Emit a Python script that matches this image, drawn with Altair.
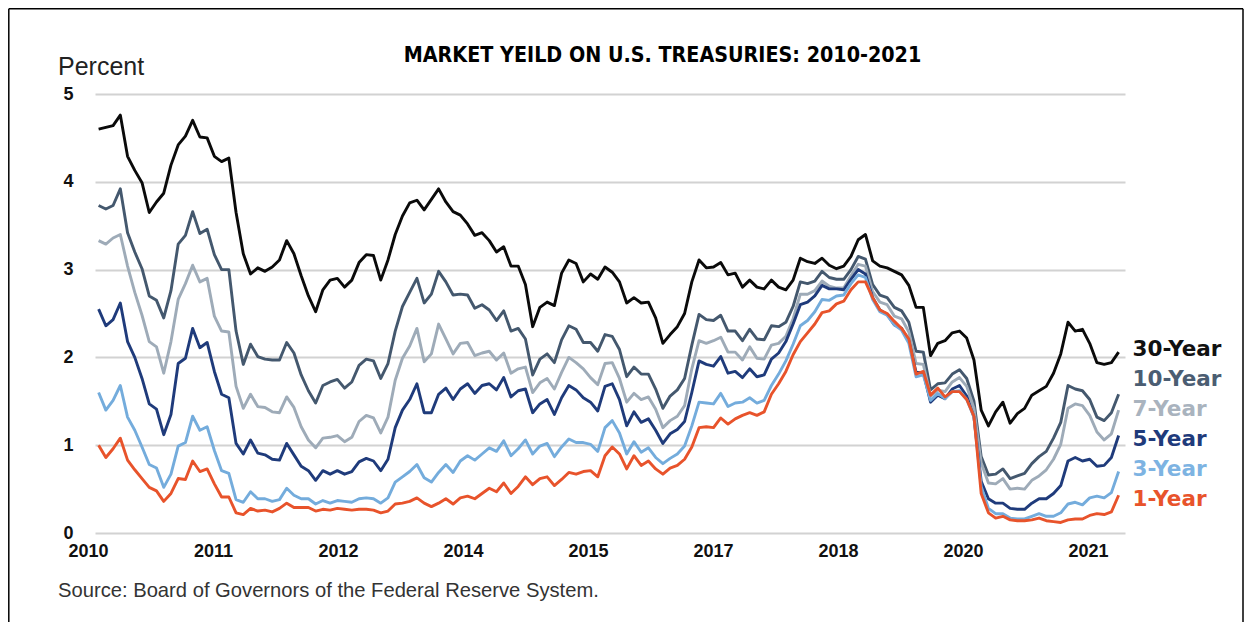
import altair as alt
import pandas as pd

SERIES = ["30-Year", "10-Year", "7-Year", "5-Year", "3-Year", "1-Year"]
LINE_COLORS = ["#0a0a0a", "#44586e", "#9eabb8", "#1f3b7b", "#74acdc", "#e8532b"]
LABEL_COLORS = ["#111111", "#4b5d72", "#a9b3be", "#1f3b7b", "#7db3e2", "#e8532b"]

TITLE = "MARKET YEILD ON U.S. TREASURIES: 2010-2021"
Y_TITLE = "Percent"
SOURCE = "Source: Board of Governors of the Federal Reserve System."

X_TICK_VALUES = [2010.00, 2011.44, 2012.88, 2014.32, 2015.76, 2017.20, 2018.64, 2020.08, 2021.52]
X_TICK_LABELS = ["2010", "2011", "2012", "2014", "2015", "2017", "2018", "2020", "2021"]
Y_TICKS = [0, 1, 2, 3, 4, 5]

# monthly readings, Jan 2010 .. Oct 2021
Y30 = [4.60, 4.62, 4.64, 4.76, 4.29, 4.13, 3.99, 3.65, 3.77, 3.87, 4.19, 4.42,
       4.52, 4.70, 4.51, 4.50, 4.29, 4.23, 4.27, 3.65, 3.18, 2.95, 3.02, 2.98,
       3.03, 3.11, 3.33, 3.18, 2.93, 2.70, 2.52, 2.77, 2.88, 2.90, 2.80, 2.88,
       3.08, 3.17, 3.16, 2.88, 3.11, 3.40, 3.61, 3.76, 3.79, 3.68, 3.80, 3.92,
       3.77, 3.66, 3.62, 3.52, 3.39, 3.42, 3.33, 3.20, 3.26, 3.04, 3.04, 2.83,
       2.35, 2.57, 2.63, 2.59, 2.96, 3.11, 3.07, 2.86, 2.95, 2.89, 3.03, 2.97,
       2.86, 2.62, 2.68, 2.62, 2.63, 2.45, 2.16, 2.26, 2.35, 2.50, 2.86, 3.11,
       3.02, 3.03, 3.08, 2.94, 2.96, 2.80, 2.88, 2.80, 2.78, 2.88, 2.80, 2.77,
       2.88, 3.13, 3.09, 3.07, 3.13, 3.05, 3.01, 3.04, 3.15, 3.34, 3.40, 3.10,
       3.04, 3.02, 2.98, 2.94, 2.82, 2.57, 2.57, 2.02, 2.16, 2.19, 2.28, 2.30,
       2.22, 1.97, 1.40, 1.22, 1.38, 1.49, 1.25, 1.36, 1.42, 1.57, 1.62, 1.67,
       1.82, 2.04, 2.40, 2.30, 2.32, 2.16, 1.94, 1.92, 1.94, 2.06]
Y10 = [3.73, 3.69, 3.73, 3.92, 3.42, 3.20, 3.01, 2.70, 2.65, 2.45, 2.76, 3.29,
       3.39, 3.66, 3.41, 3.46, 3.17, 3.00, 3.00, 2.30, 1.92, 2.15, 2.01, 1.98,
       1.97, 1.97, 2.17, 2.05, 1.80, 1.62, 1.48, 1.68, 1.72, 1.75, 1.65, 1.72,
       1.91, 1.98, 1.96, 1.76, 1.93, 2.30, 2.58, 2.74, 2.90, 2.62, 2.72, 2.98,
       2.86, 2.71, 2.72, 2.71, 2.56, 2.60, 2.54, 2.42, 2.53, 2.30, 2.33, 2.21,
       1.80, 1.98, 2.04, 1.94, 2.20, 2.36, 2.32, 2.17, 2.17, 2.07, 2.26, 2.24,
       2.09, 1.78, 1.89, 1.81, 1.81, 1.64, 1.42, 1.56, 1.63, 1.76, 2.14, 2.49,
       2.43, 2.42, 2.48, 2.30, 2.30, 2.19, 2.32, 2.21, 2.20, 2.36, 2.35, 2.40,
       2.58, 2.86, 2.84, 2.87, 2.98, 2.91, 2.89, 2.89, 3.00, 3.15, 3.12, 2.83,
       2.71, 2.68, 2.57, 2.53, 2.40, 2.07, 2.06, 1.63, 1.70, 1.71, 1.81, 1.86,
       1.76, 1.50, 0.87, 0.66, 0.67, 0.73, 0.62, 0.65, 0.68, 0.79, 0.87, 0.93,
       1.08, 1.26, 1.68, 1.64, 1.62, 1.52, 1.32, 1.28, 1.37, 1.58]
Y7 = [3.33, 3.29, 3.36, 3.40, 3.04, 2.74, 2.48, 2.18, 2.12, 1.82, 2.18, 2.66,
      2.84, 3.05, 2.86, 2.90, 2.47, 2.30, 2.29, 1.67, 1.42, 1.58, 1.44, 1.43,
      1.38, 1.37, 1.55, 1.43, 1.21, 1.06, 0.97, 1.08, 1.09, 1.11, 1.04, 1.09,
      1.27, 1.34, 1.31, 1.14, 1.32, 1.74, 1.99, 2.13, 2.33, 1.95, 2.04, 2.38,
      2.21, 2.04, 2.16, 2.17, 2.02, 2.05, 2.07, 1.97, 2.05, 1.82, 1.87, 1.89,
      1.60, 1.71, 1.76, 1.64, 1.83, 2.00, 1.94, 1.87, 1.77, 1.69, 1.93, 1.94,
      1.76, 1.49, 1.59, 1.52, 1.55, 1.41, 1.20, 1.28, 1.33, 1.45, 1.87, 2.19,
      2.16, 2.19, 2.23, 2.06, 2.06, 1.97, 2.12, 1.99, 1.98, 2.14, 2.16, 2.24,
      2.44, 2.72, 2.72, 2.76, 2.87, 2.81, 2.79, 2.79, 2.93, 3.06, 3.04, 2.75,
      2.63, 2.60, 2.47, 2.44, 2.29, 1.93, 1.92, 1.56, 1.63, 1.61, 1.72, 1.77,
      1.67, 1.42, 0.80, 0.57, 0.56, 0.62, 0.50, 0.51, 0.50, 0.60, 0.65, 0.72,
      0.84, 1.01, 1.42, 1.47, 1.45, 1.34, 1.15, 1.06, 1.13, 1.40]
Y5 = [2.55, 2.36, 2.43, 2.62, 2.18, 2.00, 1.76, 1.47, 1.41, 1.12, 1.35, 1.93,
      1.99, 2.33, 2.11, 2.17, 1.84, 1.58, 1.54, 1.02, 0.90, 1.06, 0.91, 0.89,
      0.84, 0.83, 1.02, 0.89, 0.76, 0.71, 0.60, 0.71, 0.67, 0.71, 0.67, 0.70,
      0.81, 0.85, 0.82, 0.71, 0.84, 1.20, 1.40, 1.52, 1.70, 1.37, 1.37, 1.58,
      1.65, 1.52, 1.64, 1.70, 1.59, 1.68, 1.70, 1.63, 1.77, 1.55, 1.62, 1.64,
      1.37, 1.47, 1.52, 1.35, 1.54, 1.68, 1.63, 1.54, 1.49, 1.39, 1.67, 1.70,
      1.52, 1.22, 1.38, 1.26, 1.30, 1.17, 1.02, 1.13, 1.18, 1.27, 1.60, 1.96,
      1.92, 1.90, 2.01, 1.82, 1.84, 1.77, 1.87, 1.78, 1.80, 1.98, 2.05, 2.18,
      2.38, 2.60, 2.63, 2.70, 2.82, 2.78, 2.78, 2.77, 2.89, 3.00, 2.95, 2.68,
      2.54, 2.49, 2.37, 2.33, 2.19, 1.83, 1.83, 1.49, 1.57, 1.53, 1.64, 1.68,
      1.56, 1.32, 0.59, 0.39, 0.34, 0.34, 0.28, 0.27, 0.27, 0.34, 0.39, 0.39,
      0.45, 0.54, 0.82, 0.86, 0.82, 0.84, 0.76, 0.77, 0.86, 1.11]
Y3 = [1.60, 1.40, 1.51, 1.68, 1.32, 1.17, 0.98, 0.78, 0.74, 0.52, 0.67, 0.99,
      1.03, 1.33, 1.17, 1.21, 0.94, 0.71, 0.68, 0.38, 0.35, 0.47, 0.39, 0.39,
      0.36, 0.38, 0.51, 0.43, 0.39, 0.39, 0.33, 0.37, 0.34, 0.37, 0.36, 0.35,
      0.39, 0.40, 0.39, 0.34, 0.40, 0.58, 0.64, 0.70, 0.78, 0.63, 0.58, 0.69,
      0.78, 0.69, 0.82, 0.88, 0.83, 0.90, 0.97, 0.93, 1.05, 0.88, 0.96, 1.06,
      0.90, 0.99, 1.02, 0.87, 0.98, 1.07, 1.03, 1.03, 1.01, 0.93, 1.20, 1.28,
      1.14, 0.90, 1.04, 0.92, 0.97, 0.86, 0.79, 0.85, 0.90, 0.99, 1.22, 1.49,
      1.48, 1.47, 1.59, 1.44, 1.48, 1.49, 1.54, 1.48, 1.51, 1.68, 1.81, 1.96,
      2.15, 2.36, 2.42, 2.52, 2.66, 2.65, 2.70, 2.71, 2.84, 2.94, 2.91, 2.66,
      2.52, 2.48, 2.37, 2.31, 2.16, 1.78, 1.80, 1.51, 1.59, 1.53, 1.61, 1.62,
      1.52, 1.32, 0.53, 0.28, 0.22, 0.22, 0.17, 0.16, 0.16, 0.19, 0.22, 0.19,
      0.19, 0.23, 0.33, 0.35, 0.32, 0.40, 0.42, 0.40, 0.46, 0.70]
Y1 = [1.00, 0.86, 0.96, 1.08, 0.83, 0.72, 0.62, 0.52, 0.48, 0.36, 0.45, 0.62,
      0.61, 0.82, 0.70, 0.73, 0.56, 0.41, 0.41, 0.23, 0.21, 0.28, 0.25, 0.26,
      0.24, 0.28, 0.34, 0.29, 0.29, 0.29, 0.25, 0.27, 0.26, 0.28, 0.27, 0.26,
      0.27, 0.27, 0.26, 0.23, 0.25, 0.33, 0.34, 0.36, 0.40, 0.34, 0.30, 0.34,
      0.39, 0.33, 0.40, 0.42, 0.39, 0.45, 0.51, 0.47, 0.57, 0.45, 0.53, 0.64,
      0.55, 0.62, 0.64, 0.54, 0.61, 0.69, 0.67, 0.70, 0.71, 0.64, 0.88, 0.98,
      0.90, 0.73, 0.88, 0.77, 0.82, 0.73, 0.67, 0.74, 0.77, 0.84, 0.98, 1.20,
      1.21, 1.20, 1.31, 1.24, 1.30, 1.34, 1.37, 1.34, 1.38, 1.58, 1.70, 1.84,
      2.03, 2.18, 2.28, 2.38, 2.51, 2.53, 2.61, 2.64, 2.77, 2.86, 2.86, 2.68,
      2.54, 2.50, 2.41, 2.33, 2.21, 1.81, 1.84, 1.57, 1.65, 1.55, 1.61, 1.61,
      1.52, 1.33, 0.45, 0.23, 0.17, 0.19, 0.15, 0.14, 0.14, 0.15, 0.17, 0.14,
      0.13, 0.12, 0.15, 0.16, 0.16, 0.20, 0.22, 0.21, 0.24, 0.43]

N = len(Y30)
T = [round(2010 + (i + 0.5) / 12, 4) for i in range(N)]

rows = []
for name, vals in zip(SERIES, [Y30, Y10, Y7, Y5, Y3, Y1]):
    for t, v in zip(T, vals):
        rows.append({"t": t, "value": v, "series": name})
df = pd.DataFrame(rows)

W, H = 1030, 439
PAD = {"left": 87, "top": 86, "right": 120, "bottom": 89}

label_expr = "[" + ",".join("'%s'" % s for s in X_TICK_LABELS) + "][indexof([" + \
    ",".join(str(v) for v in X_TICK_VALUES) + "], datum.value)]"
color_expr = " : ".join("datum.label == '%s' ? '%s'" % (s, c) for s, c in zip(SERIES, LABEL_COLORS)) + " : '#000'"

AXIS_FONT = "Liberation Sans, Arial, sans-serif"

lines = alt.Chart(df).mark_line(strokeWidth=2.9, strokeJoin="round").encode(
    x=alt.X("t:Q", scale=alt.Scale(domain=[2010.0, 2021.865], nice=False, zero=False),
            axis=alt.Axis(values=X_TICK_VALUES, labelExpr=label_expr, title=None, grid=False,
                          domain=False, ticks=False, labelPadding=9, labelOffset=-7,
                          labelFont=AXIS_FONT, labelFontSize=18, labelFontWeight="bold",
                          labelColor="#111111", labelOverlap=False, labelFlush=False)),
    y=alt.Y("value:Q", scale=alt.Scale(domain=[0, 5], nice=False),
            axis=alt.Axis(values=Y_TICKS, title=None, grid=True, gridColor="#d2d2d2", gridWidth=2,
                          domain=False, ticks=False, labelPadding=22, labelFont=AXIS_FONT,
                          labelFontSize=18, labelFontWeight="bold", labelColor="#111111")),
    color=alt.Color("series:N", scale=alt.Scale(domain=SERIES, range=LINE_COLORS),
                    legend=alt.Legend(orient="none", legendX=1016, legendY=245, title=None,
                                      labelFont="DejaVu Sans", labelFontWeight="bold",
                                      labelFontSize=21.5, labelColor={"expr": color_expr},
                                      symbolSize=0, symbolStrokeWidth=0, symbolOpacity=0,
                                      labelOffset=0, rowPadding=7, padding=0)),
    order=alt.Order("t:Q"),
)

one = alt.Data(values=[{"k": 0}])

title = alt.Chart(one).mark_text(
    text=TITLE, font="Liberation Sans Narrow, DejaVu Sans Condensed, sans-serif",
    fontSize=21.3, fontWeight="bold", color="#000000", align="center", baseline="alphabetic"
).encode(x=alt.value(567.5), y=alt.value(-32))

ytitle = alt.Chart(one).mark_text(
    text=Y_TITLE, font=AXIS_FONT, fontSize=25, color="#222222", align="left", baseline="alphabetic"
).encode(x=alt.value(-37), y=alt.value(-19))

source = alt.Chart(one).mark_text(
    text=SOURCE, font=AXIS_FONT, fontSize=20.2, color="#333333", align="left", baseline="alphabetic"
).encode(x=alt.value(-37), y=alt.value(503))

frame_left = alt.Chart(one).mark_rule(color="#000000", strokeWidth=1.5).encode(
    x=alt.value(-86.2), y=alt.value(-85.2), y2=alt.value(528))
frame_top = alt.Chart(one).mark_rule(color="#000000", strokeWidth=1.5).encode(
    x=alt.value(-86.2), x2=alt.value(1148), y=alt.value(-85.2))
frame_right = alt.Chart(one).mark_rule(color="#000000", strokeWidth=1.5).encode(
    x=alt.value(1148), y=alt.value(-85.2), y2=alt.value(528))

chart = alt.layer(lines, title, ytitle, source, frame_left, frame_top, frame_right).properties(
    width=W, height=H, padding=PAD, autosize=alt.AutoSizeParams(type="none"),
    background="#ffffff",
).configure_view(stroke=None)

chart.save("out.html", embed_options={"renderer": "svg", "actions": False})
